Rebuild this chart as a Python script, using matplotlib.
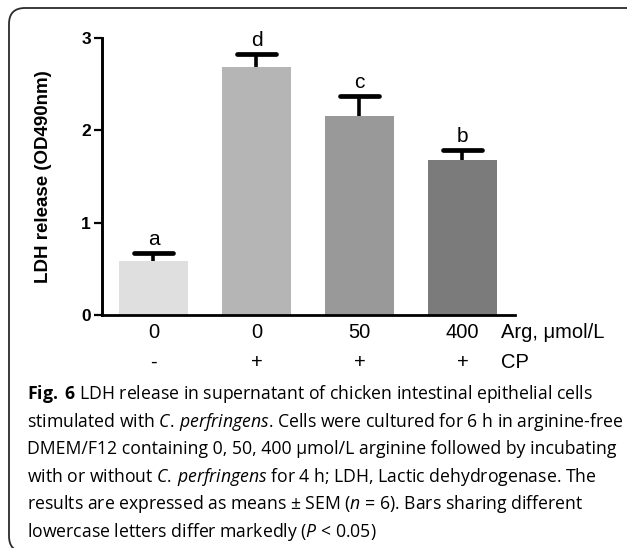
import matplotlib.pyplot as plt
from matplotlib.patches import FancyBboxPatch

# data
groups = ['0', '0', '50', '400']
cp_flags = ['-', '+', '+', '+']
ldh_mean = [0.585, 2.69, 2.155, 1.68]
ldh_sem = [0.09, 0.14, 0.215, 0.11]
sig_letters = ['a', 'd', 'c', 'b']
bar_colors = ['#dfdfdf', '#b5b5b5', '#999999', '#7b7b7b']

caption_lines = [
    r'$\bf{Fig.}$ $\bf{6}$ LDH release in supernatant of chicken intestinal epithelial cells',
    r'stimulated with $\it{C.\,perfringens}$. Cells were cultured for 6 h in arginine-free',
    'DMEM/F12 containing 0, 50, 400 \u03bcmol/L arginine followed by incubating',
    r'with or without $\it{C.\,perfringens}$ for 4 h; LDH, Lactic dehydrogenase. The',
    r'results are expressed as means $\pm$ SEM ($\it{n}$ = 6). Bars sharing different',
    r'lowercase letters differ markedly ($\it{P}$ < 0.05)',
]

plt.rcParams['font.family'] = ['Liberation Sans', 'DejaVu Sans']
plt.rcParams['mathtext.fontset'] = 'custom'
plt.rcParams['mathtext.rm'] = 'Open Sans'
plt.rcParams['mathtext.it'] = 'Open Sans:italic'
plt.rcParams['mathtext.bf'] = 'Open Sans:bold'

W, H = 627, 548
fig = plt.figure(figsize=(W / 100, H / 100), dpi=100)

# rounded frame, cut by the right and bottom edges of the image
r = 16
frame = FancyBboxPatch((9 / W, 1 - 552 / H), (660 - 9) / W, (552 - 8) / H,
                       boxstyle='round,pad=0,rounding_size=%f' % (r / W),
                       mutation_aspect=W / H,
                       transform=fig.transFigure, fill=False,
                       edgecolor='#2b2b2b', linewidth=1.3)
fig.patches.append(frame)

ax = fig.add_axes([102 / W, 1 - 315 / H, (515 - 102) / W, (315 - 38) / H])
x = list(range(len(groups)))
ax.bar(x, ldh_mean, width=0.67, color=bar_colors, zorder=2)

# upper error bars only (stem + cap)
tops = [m + e for m, e in zip(ldh_mean, ldh_sem)]
ax.vlines(x, ldh_mean, tops, color='black', linewidth=2.6, zorder=1)
ax.hlines(tops, [i - 0.185 for i in x], [i + 0.185 for i in x], color='black',
          linewidth=3.4, capstyle='round', zorder=3)
for i in x:
    ax.annotate(sig_letters[i], (i, tops[i]), xytext=(0, 3),
                textcoords='offset points', ha='center', va='bottom', fontsize=15)

ax.set_xlim(-0.5, 3.51)
ax.set_ylim(0, 3)
ax.set_yticks([0, 1, 2, 3])
ax.set_yticklabels(['0', '1', '2', '3'], fontsize=12.5, fontweight='bold')
ax.set_xticks([])
for s in ['top', 'right']:
    ax.spines[s].set_visible(False)
ax.spines['left'].set_linewidth(2.1)
ax.spines['bottom'].set_linewidth(2.0)
ax.tick_params(axis='y', width=1.6, length=6, pad=2)
ax.set_ylabel('LDH release (OD490nm)', fontsize=13.5, fontweight='bold')
ax.yaxis.set_label_coords(-0.122, 0.5)

# group labels under the axis
tr = ax.get_xaxis_transform()
row1 = -(333 - 315) / 277
row2 = -(362 - 315) / 277
for i in x:
    ax.text(i, row1, groups[i], transform=tr, ha='center', va='center', fontsize=14.5)
    ax.text(i, row2, cp_flags[i], transform=tr, ha='center', va='center', fontsize=14.5)
ax.text(3.374, row1, 'Arg, \u03bcmol/L', transform=tr, ha='left', va='center', fontsize=14.5)
ax.text(3.374, row2, 'CP', transform=tr, ha='left', va='center', fontsize=14.5)

# caption
y0 = 394
for k, line in enumerate(caption_lines):
    fig.text(27 / W, 1 - (y0 + k * 27.6) / H, line, fontsize=12.7, va='center',
             family='Open Sans')

fig.savefig('out.png', dpi=100)
